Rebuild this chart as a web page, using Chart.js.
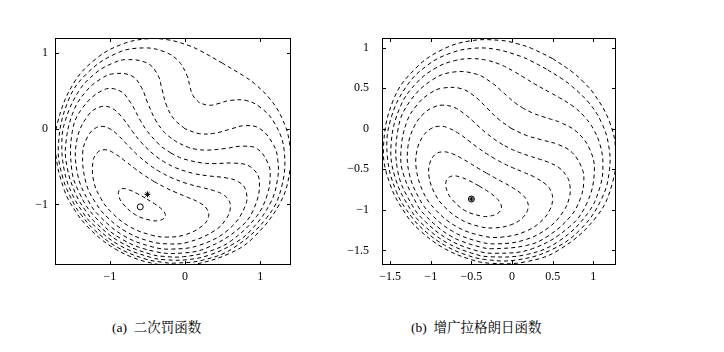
<!DOCTYPE html>
<html>
<head>
<meta charset="utf-8">
<script src="https://cdn.jsdelivr.net/npm/chart.js@4.4.0/dist/chart.umd.min.js"></script>
<style>
  body { margin: 0; background: #fff; width: 724px; height: 352px; position: relative; overflow: hidden; }
  .box { position: absolute; }
  .cap { position: absolute; top: 316px; font-family: "Liberation Serif", "Noto Serif CJK SC", "Noto Sans CJK SC", serif; font-size: 13.5px; color: #000; white-space: nowrap; }
</style>
</head>
<body>
<div class="box" style="left:0;top:0;width:310px;height:300px"><canvas id="penalty"></canvas></div>
<div class="box" style="left:330px;top:0;width:300px;height:300px"><canvas id="auglag"></canvas></div>
<div class="cap" style="left:112px">(a)&nbsp; 二次罚函数</div>
<div class="cap" style="left:411px">(b)&nbsp; 增广拉格朗日函数</div>
<script>
// (a) quadratic penalty: contour lines, outer to inner
const pen2 = [[0.500,0.866],[0.206,1.030],[0.054,1.099],[-0.233,1.177],[-0.531,1.187],[-0.848,1.114],[-1.176,0.932],[-1.481,0.604],[-1.698,0.074],[-1.723,-0.307],[-1.605,-0.814],[-1.455,-1.093],[-1.319,-1.269],[-1.128,-1.450],[-0.920,-1.593],[-0.691,-1.702],[-0.440,-1.776],[-0.219,-1.807],[0.097,-1.797],[0.596,-1.646],[0.913,-1.434],[1.264,-0.981],[1.395,-0.552],[1.389,-0.178],[1.293,0.134],[1.136,0.387],[0.925,0.596],[0.789,0.693],[0.500,0.866]];
const pen15 = [[0.196,0.339],[0.107,0.437],[0.068,0.546],[0.028,0.699],[-0.088,0.896],[-0.268,1.015],[-0.545,1.069],[-0.907,1.000],[-1.314,0.723],[-1.559,0.360],[-1.685,-0.222],[-1.624,-0.653],[-1.474,-0.998],[-1.377,-1.143],[-1.212,-1.331],[-0.903,-1.564],[-0.547,-1.715],[-0.302,-1.764],[-0.127,-1.775],[0.247,-1.733],[0.651,-1.571],[1.091,-1.170],[1.283,-0.777],[1.319,-0.285],[1.198,0.063],[1.013,0.275],[0.820,0.372],[0.592,0.374],[0.439,0.332],[0.325,0.311],[0.196,0.339]];
const pen1 = [[0,0],[-0.150,0.132],[-0.248,0.313],[-0.305,0.517],[-0.363,0.713],[-0.500,0.866],[-0.778,0.914],[-0.972,0.863],[-1.192,0.734],[-1.417,0.493],[-1.597,0.095],[-1.639,-0.190],[-1.605,-0.559],[-1.510,-0.844],[-1.371,-1.087],[-1.245,-1.245],[-0.885,-1.532],[-0.456,-1.700],[-0.256,-1.731],[0.024,-1.730],[0.319,-1.670],[0.655,-1.514],[0.881,-1.336],[1.136,-0.980],[1.231,-0.666],[1.234,-0.410],[1.180,-0.217],[1.000,0],[0.799,0.042],[0.600,-0.005],[0.396,-0.058],[0.189,-0.064],[0,0]];
const pen05 = [[-0.104,-0.179],[-0.236,-0.083],[-0.300,-0.017],[-0.386,0.104],[-0.496,0.338],[-0.581,0.550],[-0.713,0.701],[-0.954,0.727],[-1.120,0.660],[-1.304,0.509],[-1.480,0.242],[-1.587,-0.200],[-1.566,-0.521],[-1.455,-0.860],[-1.321,-1.085],[-1.199,-1.233],[-0.864,-1.496],[-0.468,-1.655],[-0.279,-1.687],[-0.018,-1.690],[0.332,-1.616],[0.620,-1.475],[0.950,-1.161],[1.093,-0.875],[1.132,-0.640],[1.107,-0.463],[0.964,-0.267],[0.767,-0.229],[0.541,-0.260],[0.283,-0.282],[0.135,-0.268],[0.046,-0.246],[-0.104,-0.179]];
const pen0 = [[-0.186,-0.322],[-0.272,-0.266],[-0.340,-0.211],[-0.499,-0.037],[-0.591,0.104],[-0.723,0.343],[-0.866,0.500],[-1.084,0.515],[-1.375,0.262],[-1.500,-0.037],[-1.508,-0.534],[-1.413,-0.832],[-1.213,-1.148],[-0.842,-1.458],[-0.387,-1.625],[-0.014,-1.640],[0.292,-1.573],[0.718,-1.317],[0.915,-1.060],[0.988,-0.681],[0.866,-0.500],[0.658,-0.454],[0.386,-0.460],[0.218,-0.450],[-0.013,-0.400],[-0.095,-0.368],[-0.186,-0.322]];
const penM05 = [[-0.259,-0.449],[-0.384,-0.365],[-0.566,-0.198],[-0.699,-0.035],[-0.837,0.151],[-0.964,0.267],[-1.112,0.294],[-1.287,0.181],[-1.441,-0.159],[-1.430,-0.598],[-1.286,-0.952],[-1.134,-1.157],[-0.816,-1.413],[-0.436,-1.560],[-0.181,-1.590],[0.197,-1.537],[0.583,-1.328],[0.800,-1.024],[0.810,-0.816],[0.713,-0.701],[0.549,-0.649],[0.319,-0.623],[0.111,-0.590],[-0.125,-0.515],[-0.259,-0.449]];
const penM1 = [[-0.330,-0.571],[-0.460,-0.487],[-0.631,-0.347],[-0.773,-0.206],[-0.896,-0.080],[-1.000,0],[-1.100,0.033],[-1.200,0.004],[-1.296,-0.104],[-1.362,-0.322],[-1.316,-0.720],[-1.192,-0.975],[-1.038,-1.165],[-0.785,-1.359],[-0.490,-1.481],[-0.249,-1.520],[0.034,-1.500],[0.402,-1.341],[0.558,-1.174],[0.604,-1.037],[0.578,-0.936],[0.500,-0.866],[0.379,-0.816],[0.208,-0.772],[0.015,-0.720],[-0.191,-0.642],[-0.330,-0.571]];
const penM15 = [[-0.405,-0.701],[-0.543,-0.614],[-0.669,-0.524],[-0.790,-0.431],[-0.948,-0.319],[-1.064,-0.277],[-1.160,-0.309],[-1.225,-0.434],[-1.214,-0.698],[-1.120,-0.920],[-0.993,-1.090],[-0.744,-1.289],[-0.448,-1.405],[-0.237,-1.431],[0.002,-1.400],[0.237,-1.278],[0.313,-1.159],[0.292,-1.061],[0.198,-0.980],[0.022,-0.900],[-0.120,-0.842],[-0.260,-0.778],[-0.405,-0.701]];
const penM21 = [[-0.529,-0.915],[-0.654,-0.847],[-0.749,-0.806],[-0.836,-0.790],[-0.879,-0.817],[-0.882,-0.885],[-0.829,-0.988],[-0.657,-1.138],[-0.441,-1.212],[-0.326,-1.207],[-0.268,-1.170],[-0.266,-1.119],[-0.323,-1.051],[-0.406,-0.990],[-0.529,-0.915]];
const penStar = [[-0.5,-0.866]];
const penCircle = [[-0.596,-1.032]];

// (b) augmented Lagrangian: contour lines, outer to inner
const aug2 = [[0.500,0.866],[0.242,0.991],[0.073,1.047],[-0.144,1.091],[-0.513,1.085],[-0.858,0.977],[-1.182,0.750],[-1.454,0.371],[-1.582,-0.236],[-1.500,-0.687],[-1.300,-1.064],[-1.140,-1.248],[-0.848,-1.468],[-0.511,-1.611],[-0.271,-1.658],[0.155,-1.643],[0.586,-1.489],[1.048,-1.074],[1.241,-0.649],[1.275,-0.255],[1.196,0.098],[1.016,0.421],[0.870,0.587],[0.737,0.705],[0.500,0.866]];
const aug15 = [[0.425,0.736],[0.231,0.839],[0.107,0.894],[-0.198,0.980],[-0.474,0.993],[-0.752,0.935],[-1.033,0.790],[-1.296,0.529],[-1.496,0.107],[-1.535,-0.332],[-1.424,-0.773],[-1.236,-1.086],[-1.057,-1.273],[-0.829,-1.436],[-0.574,-1.552],[-0.322,-1.613],[0.042,-1.620],[0.480,-1.495],[0.841,-1.242],[1.106,-0.858],[1.200,-0.500],[1.186,-0.184],[1.097,0.086],[0.948,0.319],[0.721,0.539],[0.611,0.619],[0.425,0.736]];
const aug1 = [[0.309,0.535],[0.147,0.633],[0.039,0.699],[-0.135,0.789],[-0.309,0.845],[-0.500,0.866],[-0.710,0.840],[-0.935,0.752],[-1.165,0.576],[-1.371,0.282],[-1.488,-0.188],[-1.437,-0.607],[-1.238,-1.013],[-1.079,-1.198],[-0.809,-1.401],[-0.498,-1.533],[-0.259,-1.579],[0.193,-1.548],[0.581,-1.383],[0.929,-1.047],[1.082,-0.721],[1.119,-0.434],[1.083,-0.195],[1.000,0],[0.887,0.155],[0.750,0.278],[0.586,0.383],[0.475,0.444],[0.309,0.535]];
const aug05 = [[0.144,0.249],[0.042,0.317],[-0.052,0.397],[-0.143,0.479],[-0.230,0.554],[-0.433,0.672],[-0.713,0.701],[-0.978,0.606],[-1.255,0.341],[-1.400,0.010],[-1.406,-0.523],[-1.225,-0.950],[-1.067,-1.145],[-0.786,-1.362],[-0.458,-1.497],[-0.210,-1.536],[0.250,-1.479],[0.708,-1.208],[0.922,-0.916],[1.013,-0.543],[0.964,-0.267],[0.799,-0.039],[0.595,0.078],[0.486,0.116],[0.370,0.153],[0.254,0.195],[0.144,0.249]];
const aug0 = [[0,0],[-0.163,0.116],[-0.308,0.256],[-0.452,0.394],[-0.628,0.496],[-0.866,0.500],[-1.010,0.437],[-1.161,0.305],[-1.298,0.077],[-1.368,-0.296],[-1.334,-0.569],[-1.156,-0.956],[-1.066,-1.070],[-0.876,-1.242],[-0.761,-1.318],[-0.638,-1.380],[-0.393,-1.458],[-0.250,-1.479],[0.174,-1.440],[0.428,-1.333],[0.716,-1.085],[0.844,-0.853],[0.883,-0.656],[0.866,-0.500],[0.743,-0.296],[0.568,-0.194],[0.375,-0.139],[0.182,-0.083],[0,0]];
const augM05 = [[-0.113,-0.196],[-0.189,-0.148],[-0.248,-0.106],[-0.316,-0.053],[-0.400,0.020],[-0.489,0.102],[-0.574,0.175],[-0.703,0.260],[-0.851,0.292],[-0.964,0.267],[-1.083,0.191],[-1.199,0.038],[-1.281,-0.223],[-1.265,-0.552],[-1.139,-0.865],[-1.002,-1.048],[-0.731,-1.265],[-0.407,-1.392],[-0.179,-1.419],[0.154,-1.371],[0.447,-1.221],[0.632,-1.020],[0.707,-0.843],[0.713,-0.701],[0.678,-0.592],[0.577,-0.479],[0.439,-0.409],[0.333,-0.373],[0.217,-0.336],[0.112,-0.300],[0.032,-0.268],[-0.034,-0.238],[-0.113,-0.196]];
const augM1 = [[-0.213,-0.369],[-0.319,-0.303],[-0.420,-0.233],[-0.529,-0.150],[-0.647,-0.063],[-0.800,0.017],[-0.899,0.031],[-1.000,0],[-1.096,-0.092],[-1.170,-0.268],[-1.177,-0.502],[-1.098,-0.769],[-0.969,-0.969],[-0.693,-1.201],[-0.355,-1.323],[-0.117,-1.335],[0.154,-1.271],[0.353,-1.147],[0.468,-0.995],[0.500,-0.866],[0.477,-0.763],[0.414,-0.684],[0.269,-0.592],[0.135,-0.533],[0.008,-0.480],[-0.103,-0.428],[-0.213,-0.369]];
const augM15 = [[-0.315,-0.546],[-0.417,-0.486],[-0.519,-0.423],[-0.622,-0.363],[-0.739,-0.306],[-0.854,-0.284],[-0.948,-0.319],[-1.013,-0.428],[-1.021,-0.592],[-0.954,-0.792],[-0.843,-0.950],[-0.642,-1.112],[-0.401,-1.205],[-0.209,-1.222],[-0.002,-1.180],[0.136,-1.092],[0.198,-0.980],[0.181,-0.882],[0.104,-0.793],[-0.004,-0.720],[-0.107,-0.661],[-0.213,-0.604],[-0.315,-0.546]];
const augM185 = [[-0.407,-0.704],[-0.531,-0.638],[-0.634,-0.596],[-0.726,-0.581],[-0.791,-0.612],[-0.816,-0.677],[-0.796,-0.774],[-0.745,-0.863],[-0.581,-1.007],[-0.375,-1.077],[-0.272,-1.076],[-0.179,-1.045],[-0.134,-0.991],[-0.141,-0.919],[-0.199,-0.847],[-0.287,-0.779],[-0.407,-0.704]];
const augStar = [[-0.5,-0.866]];
const augCircle = [[-0.5,-0.866]];

const penXTicks = [-1, 0, 1];
const penYTicks = [-1, 0, 1];
const augXTicks = [-1.5, -1, -0.5, 0, 0.5, 1];
const augYTicks = [-1.5, -1, -0.5, 0, 0.5, 1];

const toXY = arr => arr.map(p => ({ x: p[0], y: p[1] }));
const fmt = v => (v < 0 ? '\u2212' + Math.abs(v) : String(v));

const contour = arr => ({
  data: toXY(arr), showLine: true, pointRadius: 0, borderColor: '#000',
  borderWidth: 1, borderDash: [4, 3.2], tension: 0.4, fill: false
});
const marker = (arr, style, r) => ({
  data: toXY(arr), showLine: false, pointStyle: style, pointRadius: r,
  borderColor: '#000', backgroundColor: 'rgba(0,0,0,0)', pointBorderWidth: 1
});

// frame plus pgfplots style inner ticks on all four sides
const framePlugin = {
  id: 'frame',
  afterDatasetsDraw(chart) {
    const { ctx, chartArea: a, scales: { x, y } } = chart;
    ctx.save();
    ctx.strokeStyle = '#000';
    ctx.lineWidth = 1;
    ctx.strokeRect(a.left + 0.5, a.top + 0.5, a.right - a.left - 1, a.bottom - a.top - 1);
    ctx.beginPath();
    x.ticks.forEach(t => {
      const p = Math.round(x.getPixelForValue(t.value)) + 0.5;
      ctx.moveTo(p, a.bottom); ctx.lineTo(p, a.bottom - 4);
      ctx.moveTo(p, a.top); ctx.lineTo(p, a.top + 4);
    });
    y.ticks.forEach(t => {
      const p = Math.round(y.getPixelForValue(t.value)) + 0.5;
      ctx.moveTo(a.left, p); ctx.lineTo(a.left + 4, p);
      ctx.moveTo(a.right, p); ctx.lineTo(a.right - 4, p);
    });
    ctx.stroke();
    ctx.restore();
  }
};

function makeChart(id, sets, xr, yr, xt, yt, yw, padR, ypad) {
  const tickFont = { family: '"Liberation Serif", serif', size: 12 };
  return new Chart(document.getElementById(id), {
    type: 'scatter',
    data: { datasets: sets },
    options: {
      responsive: true, maintainAspectRatio: false, animation: false, devicePixelRatio: 1,
      layout: { padding: { top: 38, right: padR, left: 0, bottom: 0 } },
      elements: { line: { capBezierPoints: false } },
      plugins: { legend: { display: false }, tooltip: { enabled: false } },
      scales: {
        x: {
          type: 'linear', min: xr[0], max: xr[1],
          afterBuildTicks: s => { s.ticks = xt.map(v => ({ value: v })); },
          afterFit: s => { s.height = 35; },
          grid: { display: false, drawTicks: false }, border: { display: false },
          ticks: { callback: fmt, font: tickFont, color: '#000', padding: 5, maxRotation: 0 }
        },
        y: {
          type: 'linear', min: yr[0], max: yr[1],
          afterBuildTicks: s => { s.ticks = yt.map(v => ({ value: v })); },
          afterFit: s => { s.width = yw; },
          grid: { display: false, drawTicks: false }, border: { display: false },
          ticks: { callback: fmt, font: tickFont, color: '#000', padding: ypad }
        }
      }
    },
    plugins: [framePlugin]
  });
}

makeChart('penalty',
  [pen2, pen15, pen1, pen05, pen0, penM05, penM1, penM15, penM21].map(contour)
    .concat([marker(penStar, 'star', 3), marker(penCircle, 'circle', 3)]),
  [-1.73, 1.41], [-1.8, 1.2], penXTicks, penYTicks, 55, 19, 7);

makeChart('auglag',
  [aug2, aug15, aug1, aug05, aug0, augM05, augM1, augM15, augM185].map(contour)
    .concat([marker(augStar, 'star', 2.5), marker(augCircle, 'circle', 3)]),
  [-1.6, 1.28], [-1.68, 1.12], augXTicks, augYTicks, 52, 14, 13);
</script>
</body>
</html>
